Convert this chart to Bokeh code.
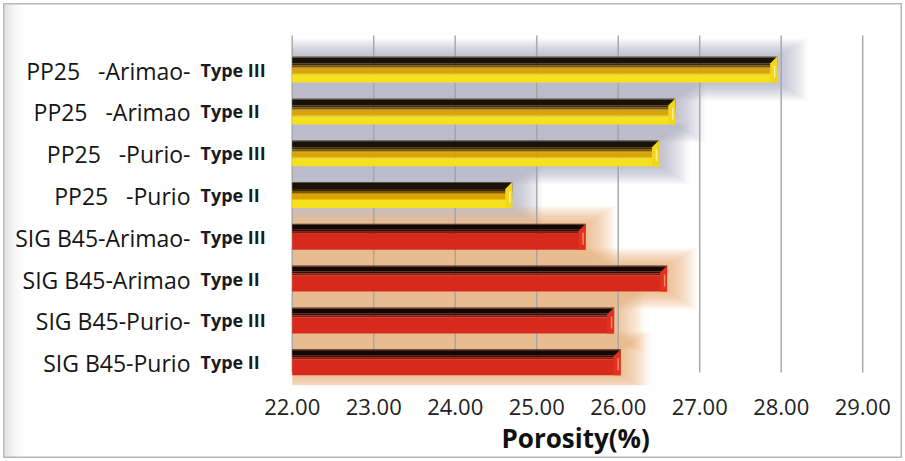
from bokeh.plotting import figure
from bokeh.models import Range1d, FixedTicker, NumeralTickFormatter, Title
from bokeh.core.properties import value
from bokeh.embed import file_html
from bokeh.resources import INLINE

# ---- data (listed top to bottom) ----
samples = ["PP25\u00a0\u00a0 -Arimao-", "PP25\u00a0\u00a0 -Arimao", "PP25\u00a0\u00a0 -Purio-", "PP25\u00a0\u00a0 -Purio",
           "SIG B45-Arimao-", "SIG B45-Arimao", "SIG B45-Purio-", "SIG B45-Purio"]
types = ["Type III", "Type II", "Type III", "Type II", "Type III", "Type II", "Type III", "Type II"]
groups = ["PP25", "PP25", "PP25", "PP25", "SIG B45", "SIG B45", "SIG B45", "SIG B45"]
porosity = [27.95, 26.70, 26.50, 24.70, 25.60, 26.60, 25.95, 26.03]
x_ticks = [22, 23, 24, 25, 26, 27, 28, 29]
x_title = "Porosity(%)"

# ---- layout helpers (pixels) ----
W, H = 905, 461
FRAME_H = 385            # frame spans the canvas width and the top 385 px
PX_PER_UNIT = 81.5       # horizontal pixels per porosity unit
X0_PX = 291.7            # pixel where the value axis starts
ROW_PX = 41.8            # pixel pitch between bars
ROW0_PX = 361.7          # centre of the lowest bar, from the top
BAR_PX = 26              # bar thickness
BASE = x_ticks[0]


def dx(px):
    return px / PX_PER_UNIT


def dy(px):
    return px / ROW_PX


x_start = BASE - dx(X0_PX)
p = figure(width=W, height=H, output_backend="svg", toolbar_location=None,
           x_range=Range1d(x_start, x_start + dx(W)),
           y_range=Range1d(dy(ROW0_PX - FRAME_H), dy(ROW0_PX)),
           y_axis_location=None, x_axis_location="below",
           min_border_left=0, min_border_right=0, min_border_top=0, min_border_bottom=H - FRAME_H)
# transparent canvas over a page element that carries the frame border and the shaded left wall
p.background_fill_color = None
p.border_fill_color = None
p.outline_line_color = None
p.xgrid.visible = False
p.ygrid.visible = False
p.styles = {
    "background": "linear-gradient(to right, #ffffff 0px, #ffffff 4px, #e2e2e2 5px, #f6f6f6 14px, #ffffff 24px)",
    "box-shadow": "inset 0 0 0 3px #ffffff, inset 0 0 0 4.5px #b8b8b8",
}

n = len(porosity)
rows = [n - 1 - i for i in range(n)]

# ---- soft glow behind the bars ----
glow_color = {"PP25": "#9a9ab2", "SIG B45": "#eca060"}
for g, gc in glow_color.items():
    idx = [i for i in range(n) if groups[i] == g]
    ys = [rows[i] for i in idx]
    vs = [porosity[i] for i in idx]
    for k in range(1, 21):
        e = 1.5 * k
        p.hbar(y=ys, height=dy(BAR_PX + 1.2 * e), left=BASE, right=[v + dx(e) for v in vs],
               fill_color=gc, fill_alpha=0.045, line_color=None)

# ---- grid lines ----
grid_top = dy(ROW0_PX - 35)
grid_bottom = dy(ROW0_PX - 372)
p.segment(x0=x_ticks, x1=x_ticks, y0=[grid_bottom] * len(x_ticks), y1=[grid_top] * len(x_ticks),
          line_color="#a2a2a2", line_width=1.5, line_alpha=0.9)

# ---- bars built from horizontal colour bands (px from bar top) ----
bands = {
    "PP25": [(0, 1, "#5a5040"), (1, 7, "#1a1208"), (7, 9, "#3e2a06"), (9, 11, "#7c5804"),
             (11, 12, "#b88a02"), (12, 17, "#dca400"), (17, 18, "#eac010"), (18, 26, "#f5e11c")],
    "SIG B45": [(0, 1, "#4a2820"), (1, 6, "#150604"), (6, 8, "#3c0a06"), (8, 10, "#8a180e"),
                (10, 26, "#d82a1c")],
}
cap_color = {"PP25": "#f2d61a", "SIG B45": "#e2321e"}
cap_light = {"PP25": "#fff3a0", "SIG B45": "#f39080"}
half = BAR_PX / 2
for g, blist in bands.items():
    idx = [i for i in range(n) if groups[i] == g]
    ys = [rows[i] for i in idx]
    vs = [porosity[i] for i in idx]
    for t, b, c in blist:
        p.hbar(y=[y + dy(half - (t + b) / 2) for y in ys], height=dy(b - t), left=BASE, right=vs,
               fill_color=c, line_color=None)
    # bevelled end caps
    cw = 7
    xs = [[v - dx(cw), v, v, v - dx(cw)] for v in vs]
    yy = [[y + dy(half - cw), y + dy(half), y - dy(half), y - dy(half)] for y in ys]
    p.patches(xs=xs, ys=yy, fill_color=cap_color[g], line_color=None)
    p.segment(x0=[v - dx(2.5) for v in vs], x1=[v - dx(2.5) for v in vs],
              y0=[y + dy(half - 9) for y in ys], y1=[y - dy(half - 5) for y in ys],
              line_color=cap_light[g], line_width=1.5, line_alpha=0.9)

# ---- category labels ----
p.text(x=[BASE] * n, y=rows, text=samples, x_offset=-(X0_PX - 190), y_offset=1,
       text_align="right", text_baseline="middle", text_font=value("Open Sans"),
       text_font_size="23px", text_color="#151515")
p.text(x=[BASE] * n, y=rows, text=types, x_offset=-(X0_PX - 200), y_offset=0,
       text_align="left", text_baseline="middle", text_font=value("Open Sans"),
       text_font_size="18px", text_font_style="bold", text_color="#1a1a1a")

# ---- value axis ----
ax = p.xaxis[0]
ax.ticker = FixedTicker(ticks=x_ticks)
ax.formatter = NumeralTickFormatter(format="0.00")
ax.axis_line_color = None
ax.major_tick_line_color = None
ax.minor_tick_line_color = None
ax.major_label_standoff = 7
ax.major_label_text_font = "Open Sans"
ax.major_label_text_font_size = "22px"
ax.major_label_text_color = "#222222"

p.add_layout(Title(text=x_title, align="left", offset=501, standoff=0,
                   text_font="Open Sans", text_font_size="26px", text_font_style="bold",
                   text_color="#111111"), "below")

open("out.html", "w").write(file_html(p, INLINE))
